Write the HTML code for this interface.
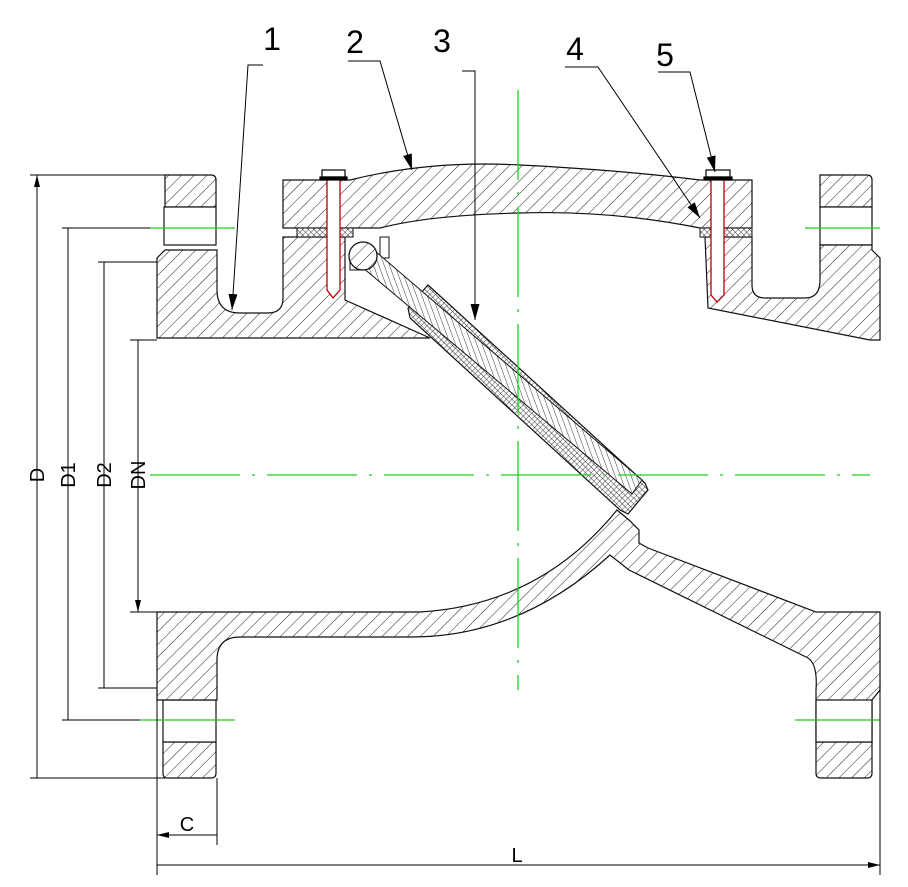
<!DOCTYPE html>
<html><head><meta charset="utf-8"><style>
html,body{margin:0;padding:0;background:#fff;}
svg{display:block;}
text{font-family:"Liberation Sans",sans-serif;}
</style></head><body>
<svg width="908" height="887" viewBox="0 0 908 887" xmlns="http://www.w3.org/2000/svg">
<defs>
<pattern id="h" width="9" height="9" patternUnits="userSpaceOnUse" patternTransform="rotate(45)">
<rect width="9" height="9" fill="#fff"/><line x1="0" y1="0" x2="0" y2="9" stroke="#222" stroke-width="1"/></pattern>
<pattern id="h2" width="5" height="5" patternUnits="userSpaceOnUse" patternTransform="rotate(-20)">
<rect width="5" height="5" fill="#fff"/><line x1="0" y1="0" x2="0" y2="5" stroke="#222" stroke-width="0.9"/></pattern>
<pattern id="x" width="4" height="4" patternUnits="userSpaceOnUse" patternTransform="rotate(45)">
<rect width="4" height="4" fill="#fff"/><path d="M0 0V4M0 0H4" stroke="#333" stroke-width="0.9"/></pattern>
<marker id="a" viewBox="0 0 10 10" refX="10" refY="5" markerWidth="16" markerHeight="9" orient="auto" markerUnits="userSpaceOnUse" preserveAspectRatio="none"><path d="M0 0L10 5L0 10Z" fill="#000"/></marker>
<marker id="ad" viewBox="0 0 10 10" refX="10" refY="5" markerWidth="12" markerHeight="6" orient="auto-start-reverse" markerUnits="userSpaceOnUse" preserveAspectRatio="none"><path d="M0 0L10 5L0 10Z" fill="#000"/></marker>
</defs>
<g stroke="#111" stroke-width="1.2" fill="url(#h)">
<path d="M165 175H211Q216 175 216 180V207H165Z"/>
<path d="M163 742H216V773Q216 778 211 778H167Q163 778 163 773Z"/>
<rect x="164" y="207" width="52" height="38" fill="#fff"/>
<rect x="163" y="700" width="53" height="42" fill="#fff"/>
<path d="M157 258L165 250H217V290Q217 313 240 313H268Q283 313 283 298V237H345V300L430 338H157Z"/>
<path d="M157 612H420Q540 605 617 510L629 520L639 530V543L648 548L816 612L880 612V690L872 700V742H816V690Q818 662 806 657L629 570L610 555Q520 637 411 637H240Q217 637 217 660V700H157Z"/>
<path d="M816 742H872V773Q872 778 867 778H821Q816 778 816 773Z"/>
<rect x="816" y="700" width="56" height="42" fill="#fff"/>
<path d="M820 175H867Q872 175 872 180V207H820Z"/>
<rect x="820" y="207" width="52" height="38" fill="#fff"/>
<path d="M705 237H752V285Q752 298 765 298H805Q820 298 820 280V245H872V250L880 258V340H870L708 308Z"/>
<path d="M283 180H350Q430 160 520 165Q620 170 700 180H752V228H700Q610 210 520 213Q430 215 380 228H283Z"/>
</g>
<rect x="297" y="228" width="56" height="9" fill="url(#x)" stroke="#111"/>
<rect x="700" y="228" width="52" height="9" fill="url(#x)" stroke="#111"/>
<g stroke="#b00" stroke-width="1.3" fill="#fff">
<path d="M327 178V290L333 298L340 290V178Z"/>
<path d="M711 178V295L717 302L724 295V178Z"/>
</g>
<g stroke="#000" fill="#fff" stroke-width="1.2">
<rect x="322" y="170" width="23" height="7"/><rect x="320" y="177" width="27" height="3" fill="#000"/>
<rect x="706" y="170" width="24" height="7"/><rect x="704" y="177" width="28" height="3" fill="#000"/>
</g>
<rect x="380" y="237" width="9" height="21" fill="#fff" stroke="#111"/>
<path d="M350 256V270H372" fill="none" stroke="#111"/>
<path d="M428 285L645 483L648 490L628 514L620 510L410 318L408 308Z" fill="url(#x)" stroke="#111" stroke-width="1.2"/>
<path d="M368 245L642 480L632 494L356 262Z" fill="url(#h2)" stroke="#111"/>
<circle cx="363" cy="256" r="14" fill="url(#h)" stroke="#111" stroke-width="1.3"/>
<g stroke="#22cc22" stroke-width="1.3" fill="none">
<path d="M150 475H870" stroke-dasharray="90 12 3 12"/>
<path d="M518 90V690" stroke-dasharray="90 12 3 12"/>
<path d="M150 228H235M805 228H880M140 720H235M795 720H880"/>
</g>
<g stroke="#000" stroke-width="1" fill="none">
<path d="M30 175H165M30 778H165M62 228H150M98 262H157M130 340H157M130 612H157M98 688H157M62 720H140"/>
<path d="M37 175V778M68 228V720M104 262V688M138 340V612" marker-start="url(#ad)" marker-end="url(#ad)"/>
<path d="M157 690V875M217 778V845M880 680V875"/>
<path d="M157 835H217M157 865H880" marker-start="url(#ad)" marker-end="url(#ad)"/>
</g>
<g font-size="20" fill="#000">
<text transform="translate(44,475) rotate(-90)" text-anchor="middle">D</text>
<text transform="translate(75,475) rotate(-90)" text-anchor="middle">D1</text>
<text transform="translate(111,475) rotate(-90)" text-anchor="middle">D2</text>
<text transform="translate(145,475) rotate(-90)" text-anchor="middle">DN</text>
<text x="187" y="831" text-anchor="middle">C</text>
<text x="517" y="862" text-anchor="middle">L</text>
</g>
<g stroke="#000" stroke-width="1" fill="none">
<path d="M263 65H248L232 310" marker-end="url(#a)"/>
<path d="M348 61H380L412 170" marker-end="url(#a)"/>
<path d="M462 71H475V320" marker-end="url(#a)"/>
<path d="M565 67H598L700 218" marker-end="url(#a)"/>
<path d="M658 72H690L715 172" marker-end="url(#a)"/>
</g>
<g font-size="32" fill="#000">
<text x="272" y="50" text-anchor="middle">1</text>
<text x="355" y="53" text-anchor="middle">2</text>
<text x="442" y="52" text-anchor="middle">3</text>
<text x="575" y="60" text-anchor="middle">4</text>
<text x="665" y="66" text-anchor="middle">5</text>
</g>
</svg>
</body></html>
